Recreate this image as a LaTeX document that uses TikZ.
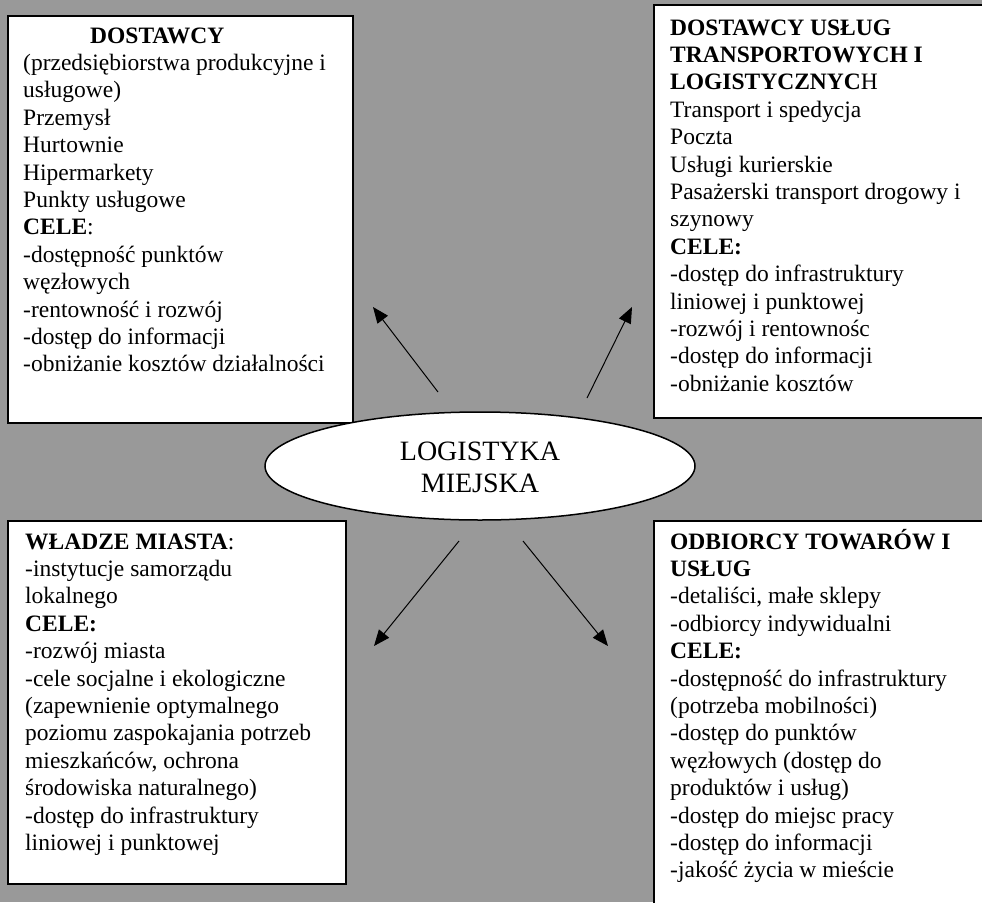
\documentclass[tikz,border=0pt]{standalone}
\usepackage{fontspec}
\setmainfont{Liberation Serif}
\usetikzlibrary{arrows.meta,shapes.geometric}
\definecolor{bggray}{RGB}{153,153,153}
\newcommand\textlines[1]{\vtop{\baselineskip=27.4pt\lineskiplimit=-100pt\lineskip=0pt #1}}
\newcommand\myl[1]{\hbox{#1}}
\begin{document}
\begin{tikzpicture}[x=1pt,y=-1pt,
  panel/.style={draw=black, line width=2pt, fill=white, anchor=north west, inner sep=0pt},
  txt/.style={anchor=base west, inner sep=0pt, font=\fontsize{23.5}{27.4}\selectfont},
  arr/.style={-{Triangle[length=16pt,width=13pt]}, line width=1pt}]
\fill[bggray] (0,0) rectangle (982,902);
\useasboundingbox (0,0) rectangle (982,902);
\clip (0,0) rectangle (982,902);
% boxes
\node[panel, minimum width=345pt, minimum height=407pt] (tl) at (7,15) {};
\node[panel, minimum width=400pt, minimum height=413pt] (tr) at (653,4) {};
\node[panel, minimum width=338pt, minimum height=363pt] (bl) at (7,520) {};
\node[panel, minimum width=400pt, minimum height=420pt] (br) at (653,520) {};
% ellipse
\node[ellipse, draw=black, line width=1.5pt, fill=white, minimum width=430pt, minimum height=108pt, inner sep=0pt] (city) at (480,466) {};
\node[anchor=base, inner sep=0pt, font=\fontsize{28}{32}\selectfont] (citytext) at (480,460)
  {\vtop{\baselineskip=32pt\hbox to 220pt{\hfil LOGISTYKA\hfil}\hbox to 220pt{\hfil MIEJSKA\hfil}}};
% texts
\node[txt] (tltext) at (23,43) {\textlines{%
\myl{\kern67pt\textbf{DOSTAWCY}}%
\myl{(przedsiębiorstwa produkcyjne i}%
\myl{usługowe)}%
\myl{Przemysł}%
\myl{Hurtownie}%
\myl{Hipermarkety}%
\myl{Punkty usługowe}%
\myl{\textbf{CELE}:}%
\myl{-dostępność punktów}%
\myl{węzłowych}%
\myl{-rentowność i rozwój}%
\myl{-dostęp do informacji}%
\myl{-obniżanie kosztów działalności}}};
\node[txt] (trtext) at (670,35) {\textlines{%
\myl{\textbf{DOSTAWCY USŁUG}}%
\myl{\textbf{TRANSPORTOWYCH I}}%
\myl{\textbf{LOGISTYCZNYC}H}%
\myl{Transport i spedycja}%
\myl{Poczta}%
\myl{Usługi kurierskie}%
\myl{Pasażerski transport drogowy i}%
\myl{szynowy}%
\myl{\textbf{CELE:}}%
\myl{-dostęp do infrastruktury}%
\myl{liniowej i punktowej}%
\myl{-rozwój i rentownośc}%
\myl{-dostęp do informacji}%
\myl{-obniżanie kosztów}}};
\node[txt] (bltext) at (25,549) {\textlines{%
\myl{\textbf{WŁADZE MIASTA}:}%
\myl{-instytucje samorządu}%
\myl{lokalnego}%
\myl{\textbf{CELE:}}%
\myl{-rozwój miasta}%
\myl{-cele socjalne i ekologiczne}%
\myl{(zapewnienie optymalnego}%
\myl{poziomu zaspokajania potrzeb}%
\myl{mieszkańców, ochrona}%
\myl{środowiska naturalnego)}%
\myl{-dostęp do infrastruktury}%
\myl{liniowej i punktowej}}};
\node[txt] (brtext) at (670,549) {\textlines{%
\myl{\textbf{ODBIORCY TOWARÓW I}}%
\myl{\textbf{USŁUG}}%
\myl{-detaliści, małe sklepy}%
\myl{-odbiorcy indywidualni}%
\myl{\textbf{CELE:}}%
\myl{-dostępność do infrastruktury}%
\myl{(potrzeba mobilności)}%
\myl{-dostęp do punktów}%
\myl{węzłowych (dostęp do}%
\myl{produktów i usług)}%
\myl{-dostęp do miejsc pracy}%
\myl{-dostęp do informacji}%
\myl{-jakość życia w mieście}}};
% arrows
\coordinate (a1s) at (438,392); \coordinate (a1e) at (373,307);
\coordinate (a2s) at (587,398); \coordinate (a2e) at (632,307);
\coordinate (a3s) at (459,541); \coordinate (a3e) at (374,646);
\coordinate (a4s) at (523,541); \coordinate (a4e) at (608,646);
\draw[arr] (a1s) -- (a1e);
\draw[arr] (a2s) -- (a2e);
\draw[arr] (a3s) -- (a3e);
\draw[arr] (a4s) -- (a4e);
\end{tikzpicture}
\end{document}
